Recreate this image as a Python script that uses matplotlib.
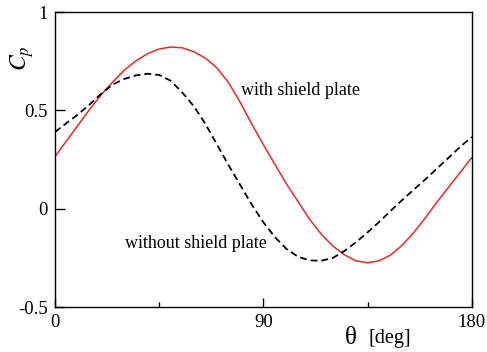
import numpy as np
import matplotlib.pyplot as plt
from matplotlib.ticker import MultipleLocator

plt.rcParams['font.family'] = 'Liberation Serif'
plt.rcParams['mathtext.fontset'] = 'stix'

# pressure coefficient vs angle, sampled every 5 deg
theta = np.arange(0, 181, 5)
cp_with = [0.265, 0.345, 0.425, 0.505, 0.58, 0.645, 0.705, 0.752, 0.788, 0.812,
           0.822, 0.818, 0.798, 0.765, 0.715, 0.64, 0.54, 0.43, 0.325, 0.225,
           0.125, 0.035, -0.055, -0.13, -0.19, -0.235, -0.265, -0.275, -0.265,
           -0.235, -0.185, -0.12, -0.045, 0.035, 0.11, 0.185, 0.26]
cp_without = [0.39, 0.435, 0.48, 0.53, 0.585, 0.632, 0.66, 0.678, 0.686, 0.68,
              0.65, 0.59, 0.52, 0.43, 0.325, 0.22, 0.12, 0.02, -0.07, -0.145,
              -0.205, -0.245, -0.263, -0.265, -0.25, -0.215, -0.17, -0.12,
              -0.067, -0.01, 0.045, 0.098, 0.15, 0.205, 0.26, 0.315, 0.365]

fig = plt.figure(figsize=(4.87, 3.52), dpi=100)
ax = fig.add_axes([0.1129, 0.1278, 0.8561, 0.8381])

ax.plot(theta, cp_with, color='#e8282b', lw=1.1)
line, = ax.plot(theta, cp_without, color='black', lw=1.3)
line.set_dashes((3.8, 2.2))

ax.set_xlim(0, 180)
ax.set_ylim(-0.5, 1)
ax.set_xticks([0, 90, 180])
ax.set_xticklabels(['0', '90', '180'])
ax.xaxis.set_minor_locator(MultipleLocator(45))
ax.set_yticks([-0.5, 0, 0.5, 1])
ax.set_yticklabels(['-0.5', '0', '0.5', '1'])

ax.tick_params(axis='both', which='both', direction='in', labelsize=13.5,
               top=False, right=False, width=1.0)
ax.tick_params(axis='x', which='major', length=6.5, pad=5)
ax.tick_params(axis='x', which='minor', length=3.5)
ax.tick_params(axis='y', which='major', length=7, pad=5)
for s in ax.spines.values():
    s.set_linewidth(1.0)

ax.text(106, 0.60, 'with shield plate', fontsize=13, ha='center', va='center')
ax.text(61, -0.175, 'without shield plate', fontsize=13, ha='center', va='center')

# axis labels placed by hand
fig.text(0.721, 0.04, 'θ', fontsize=18, ha='center', va='center')
fig.text(0.757, 0.038, '[deg]', fontsize=14.5, ha='left', va='center')
fig.text(0.045, 0.835, r'$C_p$', fontsize=17, rotation=90, ha='center', va='center')

fig.savefig('out.png', dpi=100)
